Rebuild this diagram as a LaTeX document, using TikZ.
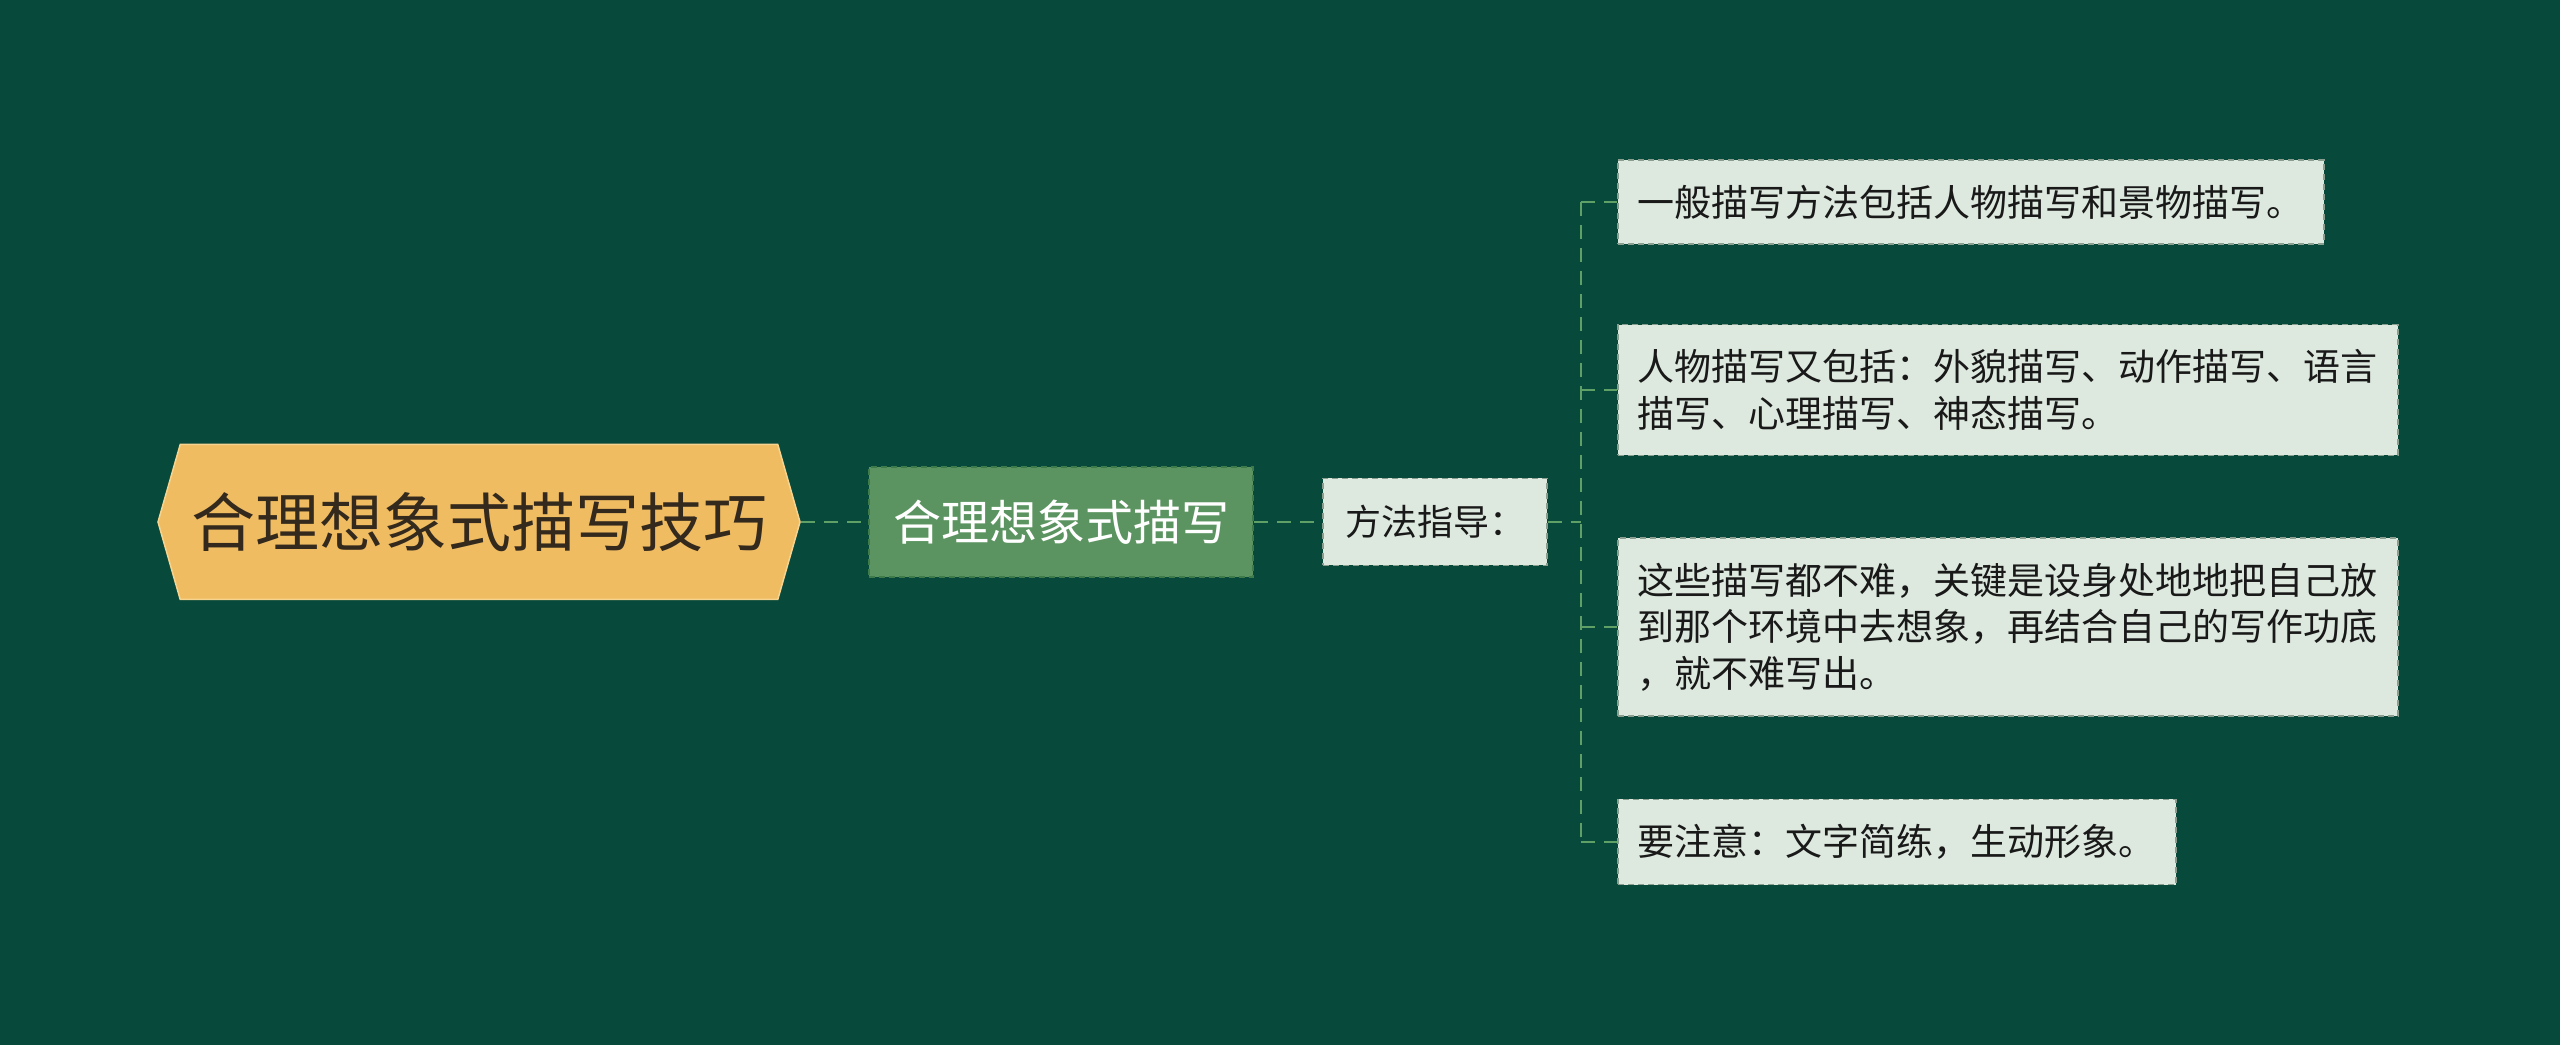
\documentclass[tikz,border=0pt]{standalone}
\usepackage{fontspec}
\newfontfamily\cjk{Noto Sans CJK SC}
\usetikzlibrary{shapes.symbols, positioning, calc}
\definecolor{bgcol}{HTML}{07493A}
\definecolor{rootcol}{HTML}{F0BC62}
\definecolor{rootline}{HTML}{F6D38F}
\definecolor{rootfont}{HTML}{33291C}
\definecolor{subcol}{HTML}{5B9460}
\definecolor{subline}{HTML}{3E7A4A}
\definecolor{leafcol}{HTML}{DDE9DF}
\definecolor{leafline}{HTML}{8A9E90}
\definecolor{linkcol}{HTML}{5FA066}
\tikzstyle{topicbox} = [signal, signal to=west and east, signal pointer angle=148,
    fill=rootcol, draw=rootline, line width=1.5pt, text=rootfont, inner sep=0pt,
    minimum width=642pt, minimum height=155pt, font=\cjk\fontsize{64}{64}\selectfont]
\tikzstyle{subbox} = [rectangle, fill=subcol, draw=subline, line width=1.5pt,
    dash pattern=on 6pt off 4pt, text=white, minimum width=384pt, minimum height=110pt,
    font=\cjk\fontsize{48}{48}\selectfont]
\tikzstyle{guidebox} = [rectangle, fill=leafcol, draw=leafline, line width=1.5pt,
    dash pattern=on 6pt off 4pt, text=black!90, minimum width=224pt, minimum height=87pt,
    font=\cjk\fontsize{36}{36}\selectfont]
\tikzstyle{leafbox} = [rectangle, fill=leafcol, draw=leafline, line width=1.5pt,
    dash pattern=on 6pt off 4pt, text=black!90, align=left, anchor=west,
    inner xsep=20pt, inner ysep=25pt, font=\cjk\fontsize{37}{46.5}\selectfont]
\tikzstyle{link} = [draw=linkcol, line width=2pt, dash pattern=on 14pt off 9pt]

\begin{document}
\begin{tikzpicture}[auto, node distance=300pt]
    % Background
    \fill [bgcol] (0,0) rectangle (2560pt,1045pt);
    \useasboundingbox (0,0) rectangle (2560pt,1045pt);

    % Nodes
    \node [topicbox] (root) at (479pt,523pt) {合理想象式描写技巧};
    \node [subbox, right of=root, node distance=582pt] (sub) {合理想象式描写};
    \node [guidebox, right of=sub, node distance=374pt] (guide) {方法指导：};
    \node [coordinate, right of=guide, node distance=146pt] (fork) {};

    % Leaves
    \node [leafbox] (leaf1) at ($(fork) + (36pt,320pt)$) {一般描写方法包括人物描写和景物描写。};
    \node [leafbox] (leaf2) at ($(fork) + (36pt,132pt)$) {人物描写又包括：外貌描写、动作描写、语言\\描写、心理描写、神态描写。};
    \node [leafbox] (leaf3) at ($(fork) + (36pt,-105pt)$) {这些描写都不难，关键是设身处地地把自己放\\到那个环境中去想象，再结合自己的写作功底\\，就不难写出。};
    \node [leafbox] (leaf4) at ($(fork) + (36pt,-320pt)$) {要注意：文字简练，生动形象。};

    % Links
    \draw [link] (root.east) -- (sub.west);
    \draw [link] (sub.east) -- (guide.west);
    \draw [link] (guide.east) -- (fork);
    \draw [link] (fork |- leaf1.west) -- (fork |- leaf4.west);
    \foreach \n in {leaf1, leaf2, leaf3, leaf4}
        \draw [link] (fork |- \n.west) -- (\n.west);

\end{tikzpicture}
\end{document}
